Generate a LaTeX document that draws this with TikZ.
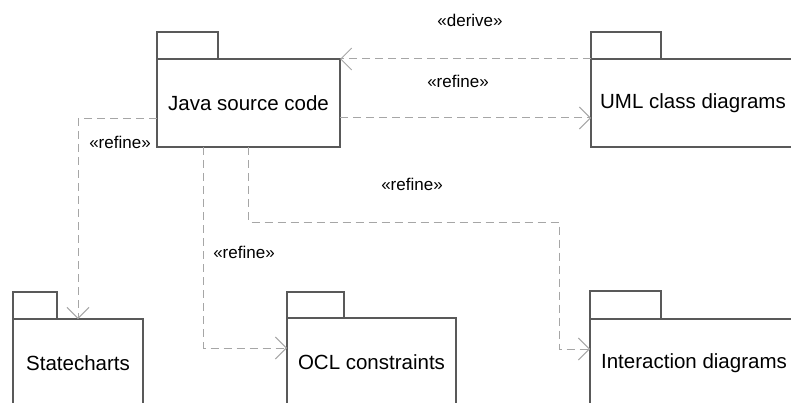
\documentclass[tikz,border=0pt]{standalone}
\usepackage{fontspec}
\setmainfont{Liberation Sans}
\usetikzlibrary{arrows.meta}
\definecolor{pkgline}{gray}{0.35}
\definecolor{depline}{gray}{0.65}

\begin{document}
\begin{tikzpicture}[x=1pt,y=-1pt]
				\useasboundingbox (0,0) rectangle (791,403);
				\clip (0,0) rectangle (791,403);
				
				\begin{scope}[every node/.style={rectangle,draw=pkgline,line width=1.2pt,minimum height=88pt,inner sep=0pt,outer sep=0pt,font=\fontsize{20.5}{24}\selectfont}]
					\node[minimum width=183pt] (java) at (248.5,103) {Java source code};
					\node[minimum width=204pt] (uml) at (693,103) {UML class diagrams};
					\node[minimum width=130pt] (state) at (78,363) {Statecharts};
					\node[minimum width=169pt] (ocl) at (371.5,362) {OCL constraints};
					\node[minimum width=208pt] (inter) at (694,363) {Interaction diagrams};
				\end{scope}
				\begin{scope}[every node/.style={rectangle,draw=pkgline,line width=1.2pt,anchor=south west,minimum height=27pt,inner sep=0pt,outer sep=0pt}]
					\node[minimum width=61pt] (javatab) at (java.north west) {};
					\node[minimum width=70pt] (umltab) at (uml.north west) {};
					\node[minimum width=44pt] (statetab) at (state.north west) {};
					\node[minimum width=57pt,minimum height=26pt] (ocltab) at (ocl.north west) {};
					\node[minimum width=71pt,minimum height=28pt] (intertab) at (inter.north west) {};
				\end{scope}
				
				\coordinate (bend) at (559,222);
				\begin{scope}[draw=depline,line width=1pt,dash pattern=on 8pt off 5pt,-{Straight Barb[length=11pt,width=22pt]}]
					\draw (uml.north west) -- (java.north east);
					\draw ([yshift=-15pt]java.east) -- ([yshift=-15pt]java.east -| uml.west);
					\draw ([yshift=-16pt]java.west) -| (state.north);
					\draw ([xshift=-45pt]java.south) |- ([yshift=14pt]ocl.west);
					\draw (java.south) |- (bend) |- ([yshift=14pt]inter.west);
				\end{scope}
				
				\begin{scope}[every node/.style={inner sep=0pt,font=\fontsize{17}{20}\selectfont}]
					\node (derive) at (470,20) {«derive»};
					\node (refineuml) at (458,81) {«refine»};
					\node (refinestate) at (120,142) {«refine»};
					\node (refineocl) at (244,252) {«refine»};
					\node (refineinter) at (412,184) {«refine»};
				\end{scope}
			\end{tikzpicture}
\end{document}
